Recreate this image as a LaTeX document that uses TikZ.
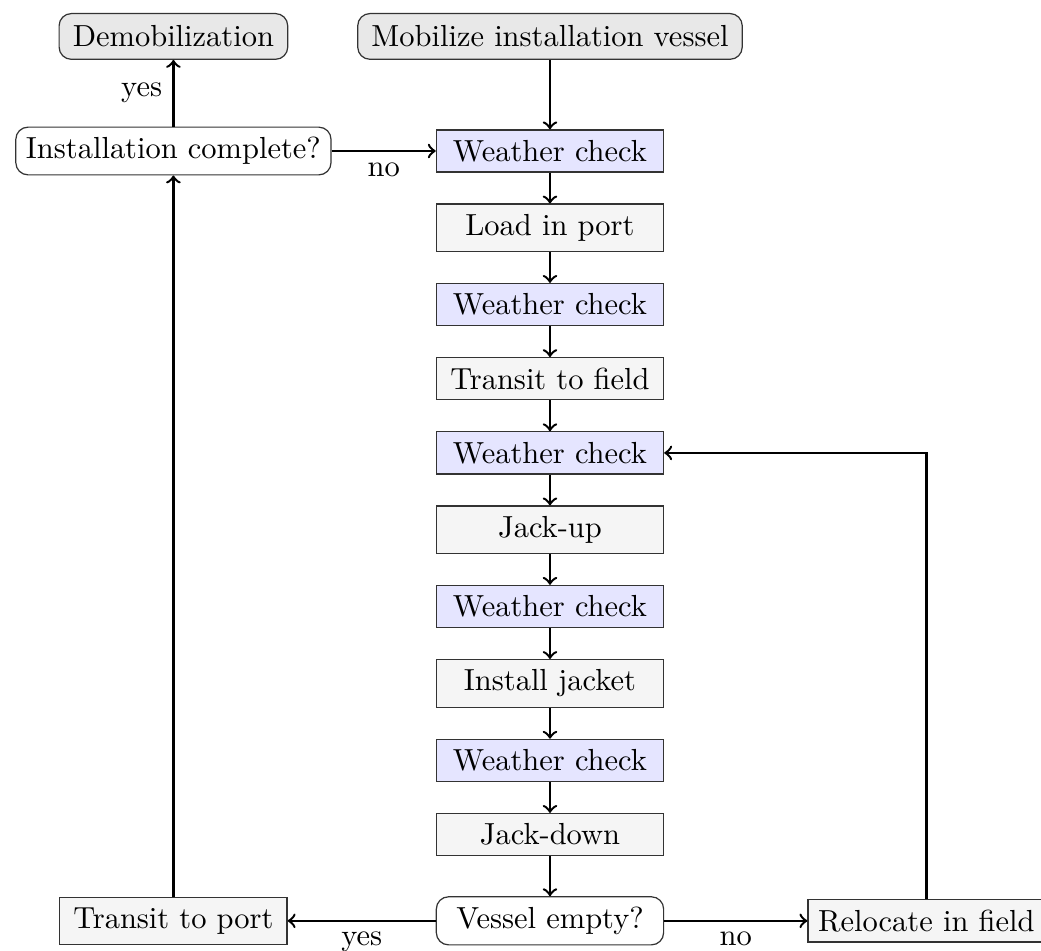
\documentclass[tikz,border=0pt]{standalone}
\usepackage{tikz}
\usetikzlibrary{shapes,arrows,positioning,calc}

\tikzset{
    startbox/.style={draw=black!80, fill=gray!18, rounded corners=4pt, minimum width=2.62cm, minimum height=15pt, inner xsep=4.5pt},
    procbox/.style={draw=black!80, fill=gray!8, minimum width=2.62cm},
    checkbox/.style={draw=black!80, fill=blue!10, minimum width=2.62cm},
    decbox/.style={draw=black!80, fill=white, rounded corners=4pt, minimum width=2.62cm},
    line/.style={->, thick}
}

\begin{document}
\begin{tikzpicture}[auto, node distance=0.355cm]
    \useasboundingbox (-6.34,0.42) rectangle (5.66,-10.54);

    % main column
    \node [startbox] (mob) at (0,0) {Mobilize installation vessel};
    \node [checkbox, below=0.8cm of mob] (wc1) {Weather check};
    \node [procbox, below=of wc1] (load) {Load in port};
    \node [checkbox, below=of load] (wc2) {Weather check};
    \node [procbox, below=of wc2] (tfield) {Transit to field};
    \node [checkbox, below=of tfield] (wc3) {Weather check};
    \node [procbox, below=of wc3] (jackup) {Jack-up};
    \node [checkbox, below=of jackup] (wc4) {Weather check};
    \node [procbox, below=of wc4] (jacket) {Install jacket};
    \node [checkbox, below=of jacket] (wc5) {Weather check};
    \node [procbox, below=of wc5] (jackdown) {Jack-down};
    \node [decbox, below=0.46cm of jackdown] (vessel) {Vessel empty?};

    % side nodes
    \node [decbox, left=1.2cm of wc1] (install) {Installation complete?};
    \node [startbox] (demob) at (install |- mob) {Demobilization};
    \node [procbox] (tport) at (install |- vessel) {Transit to port};
    \node [procbox, right=1.65cm of vessel] (reloc) {Relocate in field};

    % connectors
    \draw [line] (mob) -- (wc1);
    \draw [line] (wc1) -- (load);
    \draw [line] (load) -- (wc2);
    \draw [line] (wc2) -- (tfield);
    \draw [line] (tfield) -- (wc3);
    \draw [line] (wc3) -- (jackup);
    \draw [line] (jackup) -- (wc4);
    \draw [line] (wc4) -- (jacket);
    \draw [line] (jacket) -- (wc5);
    \draw [line] (wc5) -- (jackdown);
    \draw [line] (jackdown) -- (vessel);

    \draw [line] (vessel) -- node [below] {yes} (tport);
    \draw [line] (vessel) -- node [below] {no} (reloc);
    \draw [line] (tport) -- (install);
    \draw [line] (reloc) |- (wc3);
    \draw [line] (install) -- node [left] {yes} (demob);
    \draw [line] (install) -- node [below] {no} (wc1);
\end{tikzpicture}
\end{document}
